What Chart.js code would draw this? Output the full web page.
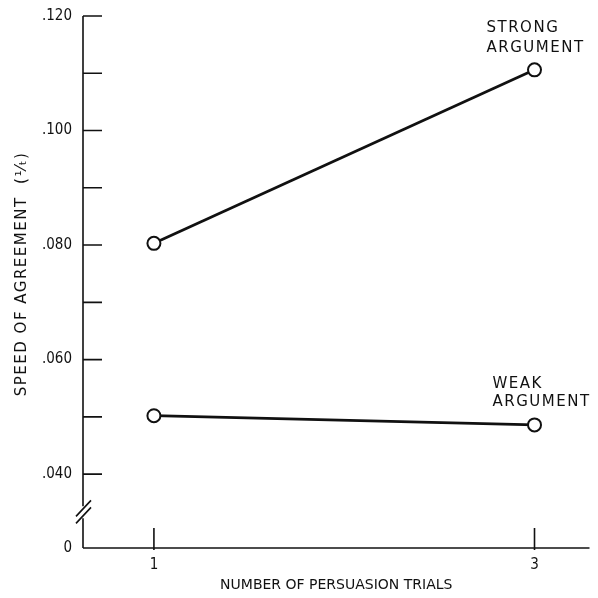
<!DOCTYPE html>
<html>
<head>
<meta charset="utf-8">
<script src="https://cdn.jsdelivr.net/npm/chart.js@4/dist/chart.umd.min.js"></script>
<style>
  html, body { margin: 0; padding: 0; background: #fff; }
  #wrap { width: 598px; height: 598px; }
</style>
</head>
<body>
<div id="wrap"><canvas id="chart"></canvas></div>
<script>
const trials = [1, 3];
const strongArg = [0.0803, 0.1106];
const weakArg = [0.0502, 0.0486];
const yTicks = [0.04, 0.05, 0.06, 0.07, 0.08, 0.09, 0.10, 0.11, 0.12];
const yLabelled = [0.04, 0.06, 0.08, 0.10, 0.12];
const xTicks = [1, 3];
const yTitle = 'SPEED OF AGREEMENT  (¹⁄ₜ)';

// axis starts at a fake "0" below the break
const yMin = 0.0271;
const yMax = 0.120;

const ink = '#111';

const axesPlugin = {
  id: 'axesPlugin',
  afterDatasetsDraw(chart) {
    const { ctx, chartArea: a, scales: { x, y } } = chart;
    ctx.save();
    ctx.strokeStyle = ink;
    ctx.lineWidth = 1.6;
    const breakY = y.getPixelForValue(0.0335);

    // y axis with break
    ctx.beginPath();
    ctx.moveTo(a.left, a.top);
    ctx.lineTo(a.left, breakY - 5);
    ctx.moveTo(a.left, breakY + 7);
    ctx.lineTo(a.left, a.bottom);
    ctx.stroke();

    // break slashes
    ctx.beginPath();
    ctx.moveTo(a.left - 7, breakY + 5);
    ctx.lineTo(a.left + 8, breakY - 11);
    ctx.moveTo(a.left - 7, breakY + 12);
    ctx.lineTo(a.left + 8, breakY - 4);
    ctx.stroke();

    // x axis
    ctx.beginPath();
    ctx.moveTo(a.left, a.bottom);
    ctx.lineTo(a.right, a.bottom);
    ctx.stroke();

    // inward y ticks
    ctx.beginPath();
    yTicks.forEach(v => {
      const py = y.getPixelForValue(v);
      ctx.moveTo(a.left, py);
      ctx.lineTo(a.left + 19, py);
    });
    ctx.stroke();

    // x ticks
    ctx.beginPath();
    xTicks.forEach(v => {
      const px = x.getPixelForValue(v);
      ctx.moveTo(px, a.bottom - 20);
      ctx.lineTo(px, a.bottom + 2);
    });
    ctx.stroke();

    ctx.fillStyle = ink;
    ctx.textBaseline = 'middle';

    // y title with letter spacing
    ctx.save();
    ctx.font = '15px "DejaVu Sans"';
    ctx.letterSpacing = '1.5px';
    ctx.textAlign = 'center';
    ctx.translate(22, (a.top + a.bottom) / 2 - 8);
    ctx.rotate(-Math.PI / 2);
    ctx.fillText(yTitle, 0, 0);
    ctx.restore();

    // series labels
    ctx.font = '15px "DejaVu Sans"';
    ctx.letterSpacing = '1.5px';
    ctx.textAlign = 'left';
    const sx = x.getPixelForValue(trials[1]);
    const sy = y.getPixelForValue(strongArg[1]);
    ctx.fillText('STRONG', sx - 48, sy - 42);
    ctx.fillText('ARGUMENT', sx - 48, sy - 22);
    const wy = y.getPixelForValue(weakArg[1]);
    ctx.fillText('WEAK', sx - 42, wy - 41);
    ctx.fillText('ARGUMENT', sx - 42, wy - 23);
    ctx.restore();
  }
};

const lineStyle = {
  borderColor: ink,
  borderWidth: 2.8,
  pointRadius: 6.5,
  pointHoverRadius: 6.5,
  pointBackgroundColor: '#fff',
  pointBorderColor: ink,
  pointBorderWidth: 2,
  tension: 0
};

new Chart(document.getElementById('chart'), {
  type: 'line',
  data: {
    datasets: [
      { label: 'Strong argument', data: trials.map((t, i) => ({ x: t, y: strongArg[i] })), ...lineStyle },
      { label: 'Weak argument', data: trials.map((t, i) => ({ x: t, y: weakArg[i] })), ...lineStyle }
    ]
  },
  options: {
    responsive: true,
    maintainAspectRatio: false,
    animation: false,
    layout: { padding: { top: 16, right: 8, left: 0, bottom: 0 } },
    plugins: { legend: { display: false }, tooltip: { enabled: false } },
    scales: {
      x: {
        type: 'linear',
        min: 0.6273,
        max: 3.289,
        afterBuildTicks: (s) => { s.ticks = xTicks.map(v => ({ value: v })); },
        afterFit: (s) => { s.height = 50; },
        grid: { display: false, drawTicks: false },
        border: { display: false },
        ticks: {
          color: ink,
          padding: 8,
          font: { family: '"DejaVu Sans Condensed"', size: 15 },
          callback: (v) => String(v)
        },
        title: {
          display: true,
          text: 'NUMBER OF PERSUASION TRIALS',
          color: ink,
          font: { family: '"DejaVu Sans"', size: 14 },
          padding: { top: 3, bottom: 4 }
        }
      },
      y: {
        type: 'linear',
        min: yMin,
        max: yMax,
        afterBuildTicks: (s) => { s.ticks = [yMin, ...yTicks].map(v => ({ value: v })); },
        afterFit: (s) => { s.width = 83; s.paddingTop = 0; s.paddingBottom = 0; },
        grid: { display: false, drawTicks: false },
        border: { display: false },
        ticks: {
          color: ink,
          padding: 11,
          font: { family: '"DejaVu Sans Condensed"', size: 15 },
          callback: (v) => {
            if (Math.abs(v - yMin) < 1e-6) return '0';
            if (yLabelled.some(l => Math.abs(l - v) < 1e-6)) {
              return '.' + String(Math.round(v * 1000)).padStart(3, '0');
            }
            return '';
          }
        },
        title: { display: false }
      }
    }
  },
  plugins: [axesPlugin]
});
</script>
</body>
</html>
